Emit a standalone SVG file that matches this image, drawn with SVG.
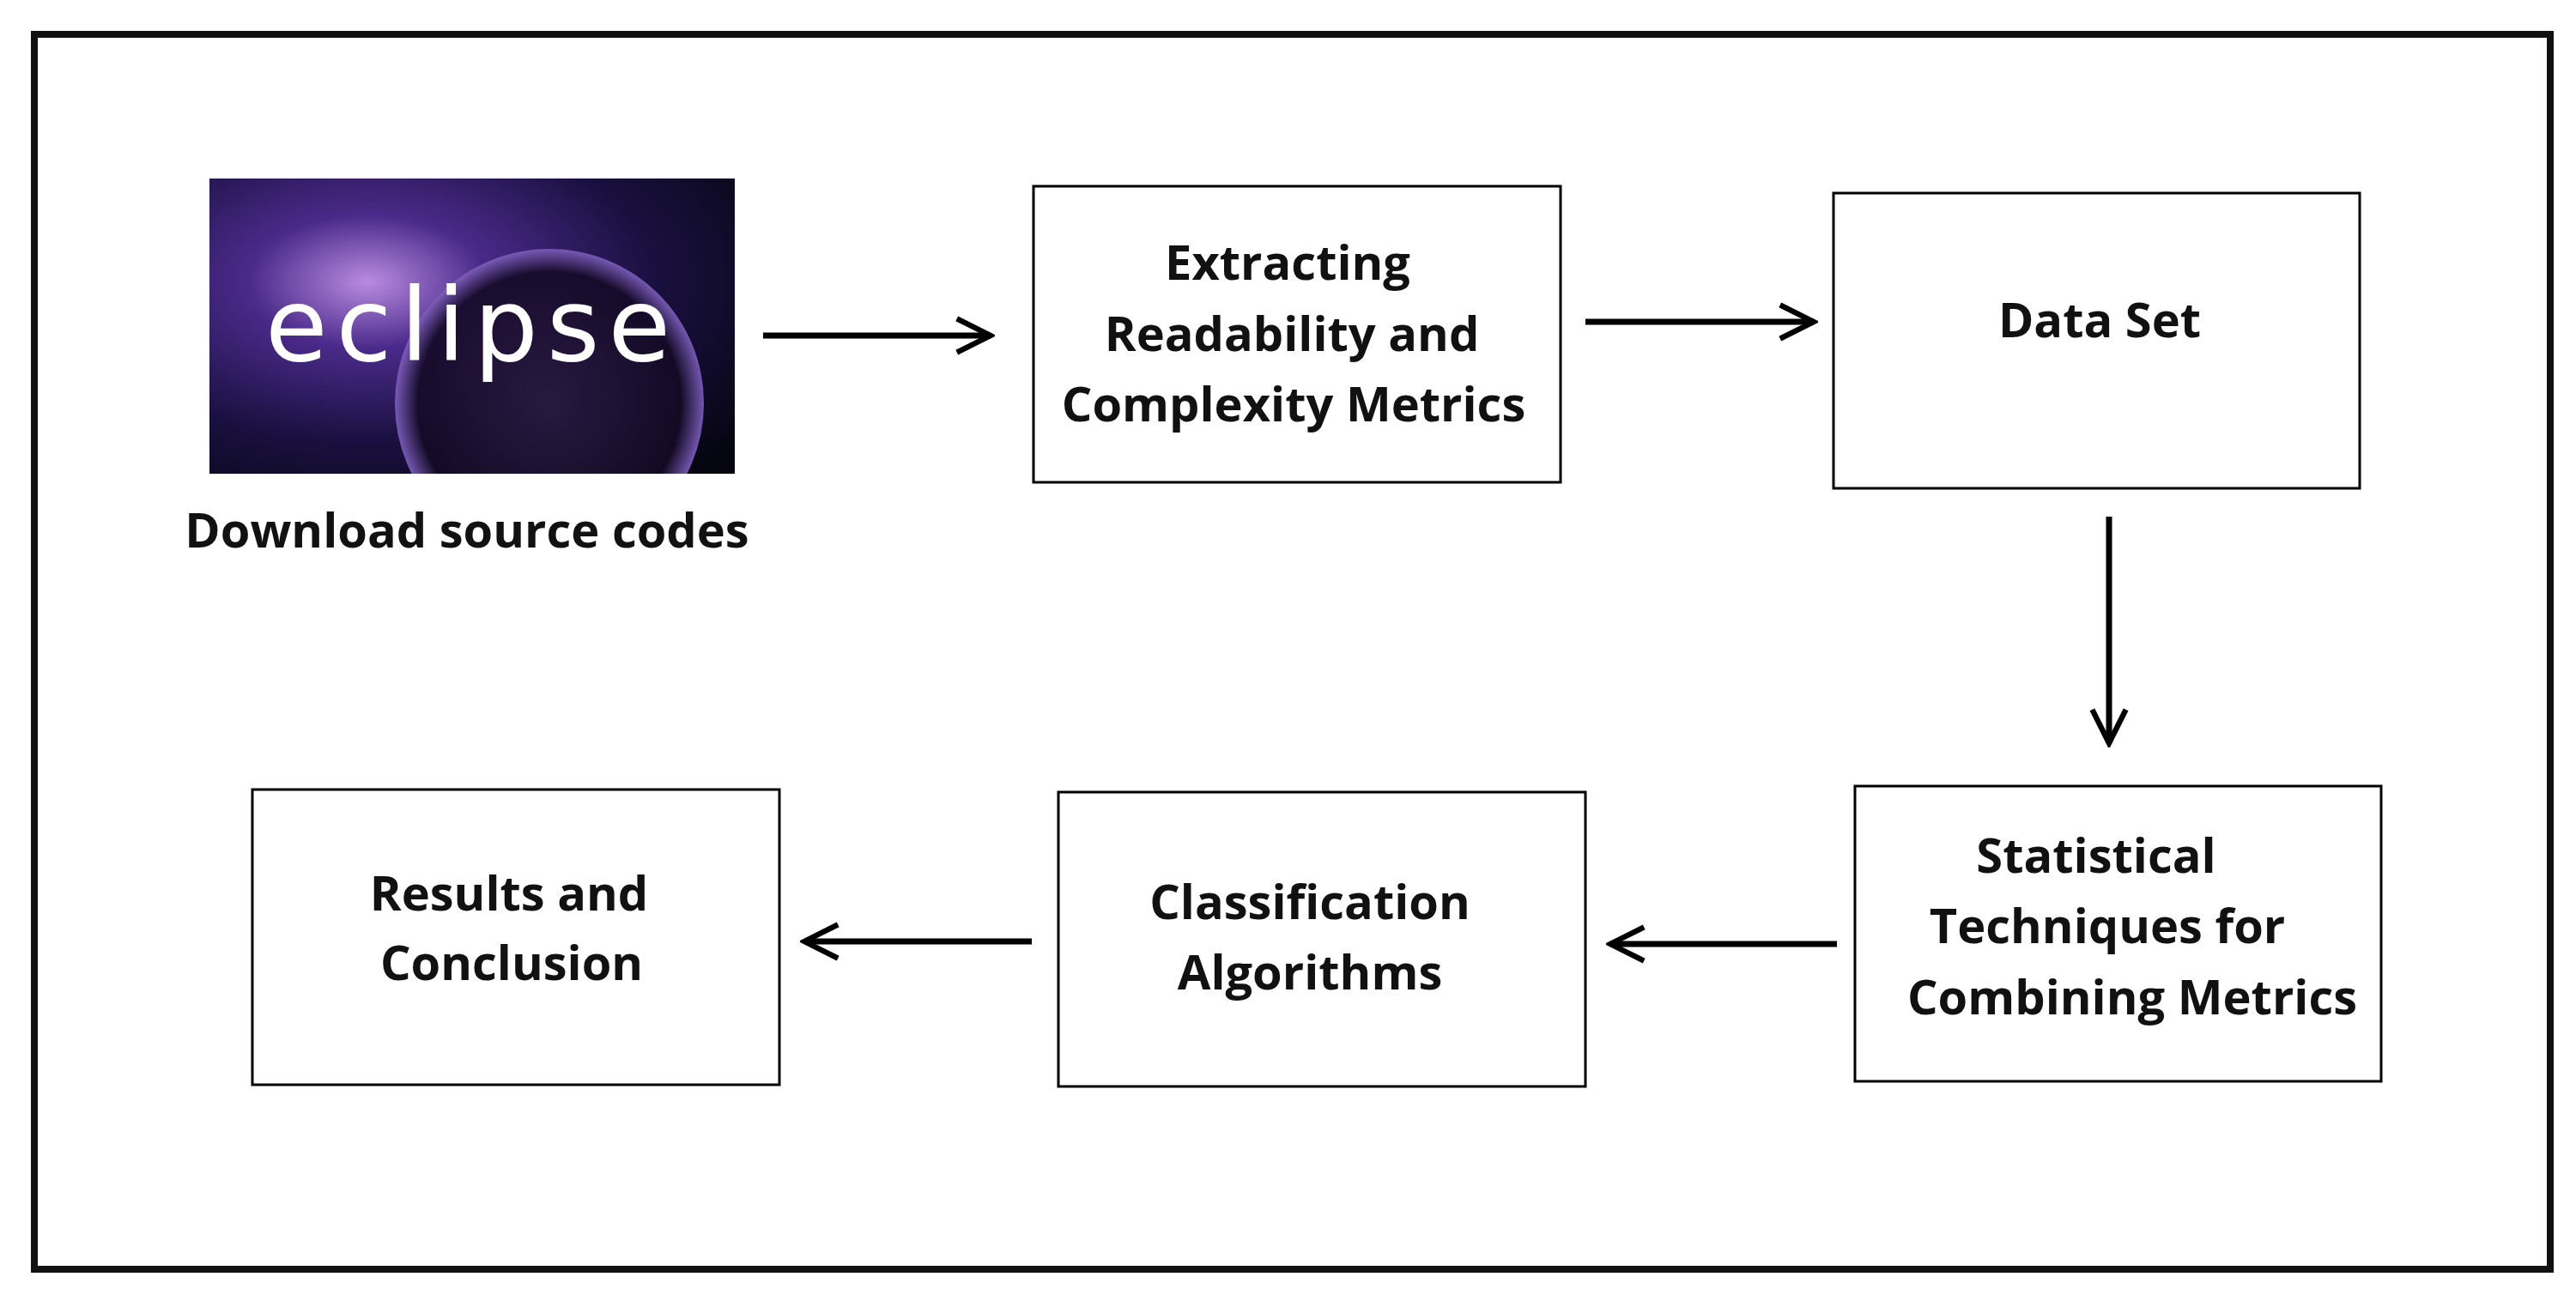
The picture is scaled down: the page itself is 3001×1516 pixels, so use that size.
<svg xmlns="http://www.w3.org/2000/svg" width="3001" height="1516" viewBox="0 0 3001 1516">
<style>
.box{fill:#fff;stroke:#000;stroke-width:3}
.t{font-family:"Open Sans",sans-serif;font-weight:bold;font-size:56px;fill:#111;text-anchor:middle;dominant-baseline:central}
.c{stroke:#000;stroke-width:7;fill:none;marker-end:url(#ah)}
</style>
<defs>
<marker id="ah" viewBox="0 0 10 10" refX="9" refY="5" markerWidth="7" markerHeight="7" orient="auto" markerUnits="strokeWidth">
<path d="M1,1 L9,5 L1,9" fill="none" stroke="#000" stroke-width="1.3"/>
</marker>
<clipPath id="ec"><rect x="244" y="208" width="612" height="344"/></clipPath>
<radialGradient id="eg" cx="0.3" cy="0.35" r="0.9">
<stop offset="0" stop-color="#b98be0"/>
<stop offset="0.25" stop-color="#4a2a8a"/>
<stop offset="0.6" stop-color="#1a1040"/>
<stop offset="1" stop-color="#05050f"/>
</radialGradient>
<radialGradient id="ball" cx="0.5" cy="0.5" r="0.5">
<stop offset="0" stop-color="#2a1a40"/>
<stop offset="0.85" stop-color="#140a25"/>
<stop offset="1" stop-color="#8060c0"/>
</radialGradient>
</defs>
<rect x="40" y="40" width="2931" height="1439" fill="#fff" stroke="#111" stroke-width="8"/>
<g id="eclipse">
<g clip-path="url(#ec)">
<rect x="244" y="208" width="612" height="344" fill="url(#eg)"/>
<circle cx="640" cy="470" r="180" fill="url(#ball)" opacity="0.9"/>
</g>
<text x="550" y="420" font-family="DejaVu Sans,sans-serif" font-size="118" fill="#fff" text-anchor="middle" letter-spacing="10">eclipse</text>
<text class="t" x="544" y="616">Download source codes</text>
</g>
<g id="extract"><rect class="box" x="1204" y="217" width="614" height="345"/>
<text class="t" x="1500" y="304">Extracting</text><text class="t" x="1505" y="387">Readability and</text><text class="t" x="1507" y="469">Complexity Metrics</text></g>
<g id="dataset"><rect class="box" x="2136" y="225" width="613" height="344"/>
<text class="t" x="2446" y="371">Data Set</text></g>
<g id="stat"><rect class="box" x="2161" y="916" width="613" height="344"/>
<text class="t" x="2442" y="995">Statistical</text><text class="t" x="2455" y="1077">Techniques for</text><text class="t" x="2484" y="1160">Combining Metrics</text></g>
<g id="classif"><rect class="box" x="1233" y="923" width="614" height="343"/>
<text class="t" x="1526" y="1049">Classification</text><text class="t" x="1526" y="1131">Algorithms</text></g>
<g id="results"><rect class="box" x="294" y="920" width="614" height="344"/>
<text class="t" x="593" y="1039">Results and</text><text class="t" x="596" y="1120">Conclusion</text></g>
<g id="connectors">
<line class="c" x1="889" y1="391" x2="1154" y2="391"/>
<line class="c" x1="1847" y1="375" x2="2113" y2="375"/>
<line class="c" x1="2457" y1="602" x2="2457" y2="866"/>
<line class="c" x1="2140" y1="1100" x2="1876" y2="1100"/>
<line class="c" x1="1202" y1="1097" x2="937" y2="1097"/>
</g>
</svg>
